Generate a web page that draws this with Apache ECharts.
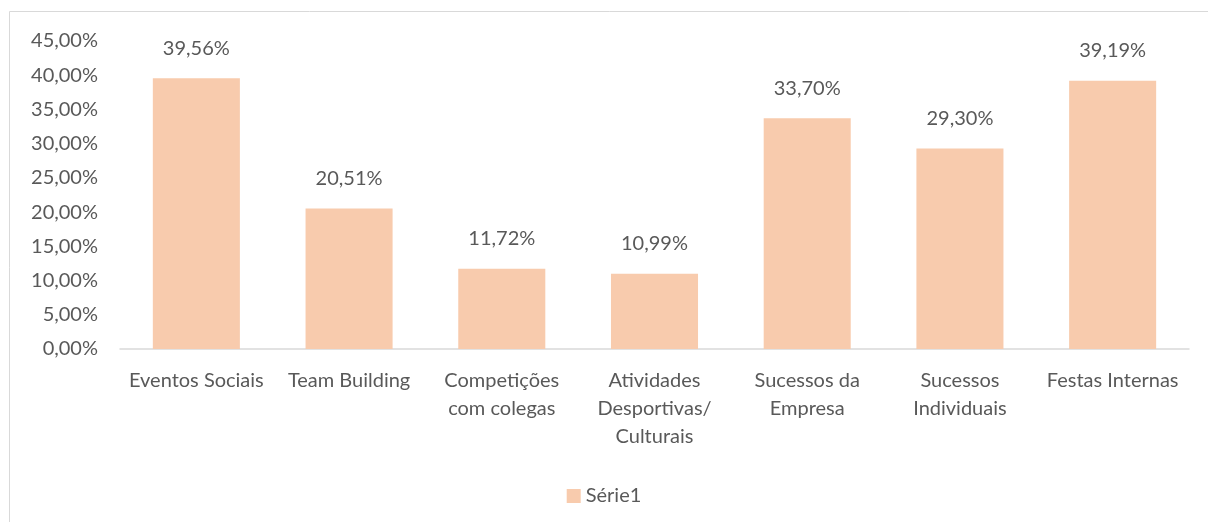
<!DOCTYPE html>
<html>
<head>
<meta charset="utf-8">
<script src="https://cdn.jsdelivr.net/npm/echarts@6/dist/echarts.min.js"></script>
<style>
  html, body { margin: 0; padding: 0; background: #fff; }
  #chart { width: 1208px; height: 522px; }
</style>
</head>
<body>
<div id="chart"></div>
<script>
// categorias e valores (%)
var categories = [
  "Eventos Sociais",
  "Team Building",
  "Competições\ncom colegas",
  "Atividades\nDesportivas/\nCulturais",
  "Sucessos da\nEmpresa",
  "Sucessos\nIndividuais",
  "Festas Internas"
];
var serie1 = [39.56, 20.51, 11.72, 10.99, 33.70, 29.30, 39.19];
var seriesName = "Série1";

function pct(v) {
  return v.toFixed(2).replace(".", ",") + "%";
}

var myChart = echarts.init(document.getElementById("chart"));
var textColor = "#595959";
var fontFam = "Lato, 'Open Sans', sans-serif";
var fs = 20;

var option = {
  animation: false,
  textStyle: { fontFamily: fontFam, color: textColor },
  graphic: [
    {
      type: "rect",
      shape: { x: 9.5, y: 11.5, width: 1230, height: 540 },
      style: { fill: "none", stroke: "#d9d9d9", lineWidth: 1 },
      silent: true
    }
  ],
  grid: { left: 120, right: 19, top: 41, bottom: 173 },
  legend: {
    top: 481,
    left: "center",
    itemWidth: 14,
    itemHeight: 14,
    itemGap: 6,
    icon: "rect",
    data: [seriesName],
    textStyle: { color: textColor, fontSize: fs, fontFamily: fontFam }
  },
  xAxis: {
    type: "category",
    data: categories,
    axisLine: { lineStyle: { color: "#d9d9d9", width: 1.5 } },
    axisTick: { show: false },
    axisLabel: {
      interval: 0,
      color: textColor,
      fontSize: fs,
      lineHeight: 28,
      margin: 18,
      fontFamily: fontFam
    }
  },
  yAxis: {
    type: "value",
    min: 0,
    max: 45,
    interval: 5,
    splitLine: { show: false },
    axisLine: { show: false },
    axisTick: { show: false },
    axisLabel: {
      color: textColor,
      fontSize: fs,
      margin: 22,
      fontFamily: fontFam,
      formatter: function (v) { return pct(v); }
    }
  },
  series: [
    {
      name: seriesName,
      type: "bar",
      data: serie1,
      barWidth: "57%",
      itemStyle: { color: "#F8CBAD" },
      label: {
        show: true,
        position: "top",
        distance: 20,
        color: textColor,
        fontSize: fs,
        fontFamily: fontFam,
        formatter: function (p) { return pct(p.value); }
      }
    }
  ]
};

myChart.setOption(option);
</script>
</body>
</html>
